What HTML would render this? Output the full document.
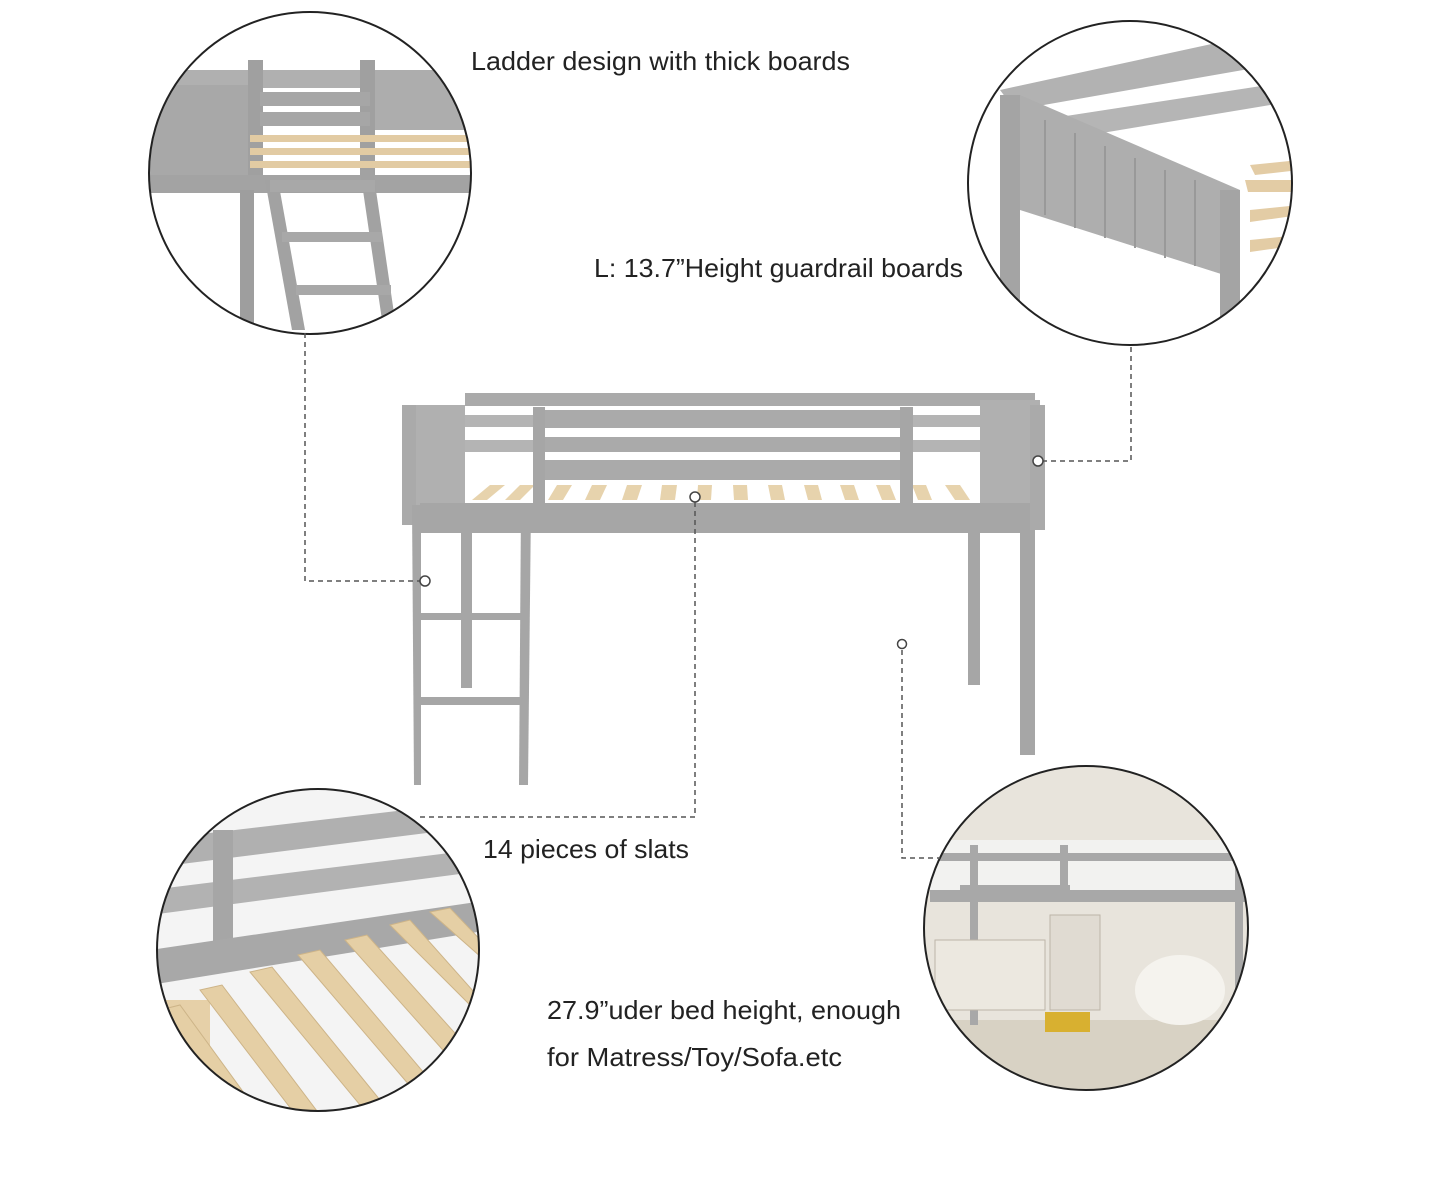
<!DOCTYPE html>
<html><head><meta charset="utf-8"><style>
html,body{margin:0;padding:0;background:#fff;}
svg{display:block;}
text{font-family:"Liberation Sans",sans-serif;fill:#222;font-size:26px;}
</style></head><body>
<svg width="1440" height="1203" viewBox="0 0 1440 1203" xmlns="http://www.w3.org/2000/svg">
<defs>
<clipPath id="c1"><circle cx="310" cy="173" r="161"/></clipPath>
<clipPath id="c2"><circle cx="1130" cy="183" r="162"/></clipPath>
<clipPath id="c3"><circle cx="318" cy="950" r="161"/></clipPath>
<clipPath id="c4"><circle cx="1086" cy="928" r="162"/></clipPath>
</defs>
<rect width="1440" height="1203" fill="#fff"/>

<g clip-path="url(#c1)">
<rect x="140" y="0" width="340" height="340" fill="#fff"/>
<rect x="150" y="70" width="330" height="18" fill="#b0b0b0"/>
<rect x="150" y="85" width="100" height="100" fill="#a8a8a8"/>
<rect x="248" y="60" width="15" height="120" fill="#a0a0a0"/>
<rect x="360" y="60" width="15" height="120" fill="#a0a0a0"/>
<rect x="260" y="92" width="110" height="14" fill="#a6a6a6"/>
<rect x="260" y="112" width="110" height="14" fill="#a6a6a6"/>
<rect x="375" y="70" width="110" height="60" fill="#adadad"/>
<g fill="#e2cba3">
<rect x="250" y="135" width="230" height="7"/><rect x="250" y="148" width="230" height="7"/><rect x="250" y="161" width="230" height="7"/>
</g>
<rect x="150" y="175" width="330" height="18" fill="#a3a3a3"/>
<rect x="240" y="190" width="14" height="150" fill="#9e9e9e"/>
<polygon points="265,180 278,180 305,330 292,330" fill="#a2a2a2"/>
<polygon points="360,170 373,170 395,320 382,320" fill="#a2a2a2"/>
<rect x="270" y="180" width="105" height="12" fill="#a8a8a8"/>
<rect x="282" y="232" width="100" height="10" fill="#a8a8a8"/>
<rect x="296" y="285" width="95" height="10" fill="#a8a8a8"/>
</g>
<circle cx="310" cy="173" r="161" fill="none" stroke="#222" stroke-width="2"/>

<g clip-path="url(#c2)">
<rect x="960" y="15" width="340" height="340" fill="#fff"/>
<polygon points="1000,90 1230,40 1300,40 1300,60 1015,110" fill="#b2b2b2"/>
<polygon points="1040,120 1300,80 1300,100 1060,140" fill="#b5b5b5"/>
<polygon points="1000,95 1020,95 1240,190 1240,280 1020,210 1000,210" fill="#aeaeae"/>
<g stroke="#999" stroke-width="2">
<line x1="1045" y1="120" x2="1045" y2="215"/><line x1="1075" y1="133" x2="1075" y2="228"/><line x1="1105" y1="146" x2="1105" y2="238"/><line x1="1135" y1="158" x2="1135" y2="248"/><line x1="1165" y1="170" x2="1165" y2="258"/><line x1="1195" y1="180" x2="1195" y2="266"/>
</g>
<g fill="#e3cca5">
<polygon points="1250,165 1300,160 1300,170 1255,175"/><polygon points="1245,180 1300,180 1300,192 1248,192"/><polygon points="1250,210 1300,205 1300,215 1250,222"/><polygon points="1250,240 1300,235 1300,245 1250,252"/>
</g>
<rect x="1000" y="95" width="20" height="260" fill="#a4a4a4"/>
<rect x="1220" y="190" width="20" height="160" fill="#a4a4a4"/>
</g>
<circle cx="1130" cy="183" r="162" fill="none" stroke="#222" stroke-width="2"/>

<g clip-path="url(#c3)">
<rect x="150" y="785" width="340" height="330" fill="#f4f4f4"/>
<polygon points="150,840 490,800 490,825 150,868" fill="#b0b0b0"/>
<polygon points="150,890 490,848 490,870 150,915" fill="#b2b2b2"/>
<rect x="213" y="830" width="20" height="130" fill="#a6a6a6"/>
<polygon points="150,950 490,900 490,930 150,985" fill="#a8a8a8"/>
<rect x="150" y="1000" width="60" height="120" fill="#e6d0a8"/>
<g fill="#e5cfa5" stroke="#cdb488" stroke-width="1">
<polygon points="160,1010 180,1005 260,1115 240,1120"/>
<polygon points="200,990 222,985 320,1115 298,1118"/>
<polygon points="250,972 272,967 380,1100 360,1105"/>
<polygon points="298,955 320,950 430,1080 410,1086"/>
<polygon points="345,940 367,935 470,1050 450,1058"/>
<polygon points="390,925 410,920 490,1010 490,1025"/>
<polygon points="430,912 450,908 490,950 490,965"/>
</g>
</g>
<circle cx="318" cy="950" r="161" fill="none" stroke="#222" stroke-width="2"/>

<g clip-path="url(#c4)">
<rect x="920" y="760" width="340" height="340" fill="#e8e4dc"/>
<rect x="920" y="1020" width="340" height="80" fill="#d8d2c4"/>
<rect x="930" y="840" width="320" height="55" fill="#f2f2f0"/>
<rect x="930" y="853" width="310" height="8" fill="#a8a8a8"/>
<rect x="930" y="890" width="320" height="12" fill="#a8a8a8"/>
<rect x="970" y="845" width="8" height="180" fill="#a8a8a8"/>
<rect x="960" y="885" width="110" height="8" fill="#a8a8a8"/>
<rect x="1060" y="845" width="8" height="48" fill="#a8a8a8"/>
<rect x="1235" y="840" width="8" height="180" fill="#a8a8a8"/>
<rect x="935" y="940" width="110" height="70" fill="#ece8e0" stroke="#bdb5a8"/>
<rect x="1050" y="915" width="50" height="95" fill="#e0dbd2" stroke="#bdb5a8"/>
<ellipse cx="1180" cy="990" rx="45" ry="35" fill="#f5f3ee"/>
<rect x="1045" y="1012" width="45" height="20" fill="#d8b030"/>
</g>
<circle cx="1086" cy="928" r="162" fill="none" stroke="#222" stroke-width="2"/>

<g fill="#aaaaaa">
<rect x="465" y="393" width="570" height="13"/>
<rect x="465" y="415" width="520" height="12" fill="#b4b4b4"/>
<rect x="465" y="440" width="520" height="12" fill="#b4b4b4"/>
<rect x="402" y="405" width="63" height="100" fill="#b0b0b0"/>
<rect x="402" y="405" width="14" height="120"/>
<rect x="980" y="400" width="60" height="110" fill="#b0b0b0"/>
<rect x="1030" y="405" width="15" height="125"/>
<rect x="545" y="410" width="355" height="18"/>
<rect x="545" y="437" width="355" height="15"/>
<rect x="545" y="460" width="355" height="20"/>
</g>
<g fill="#e7d3ad">
<polygon points="472,500 490,485 505,485 487,500"/><polygon points="505,500 520,485 535,485 520,500"/>
<polygon points="548,500 557,485 572,485 563,500"/><polygon points="585,500 592,485 607,485 600,500"/>
<polygon points="622,500 627,485 642,485 637,500"/><polygon points="660,500 662,485 677,485 675,500"/>
<polygon points="697,500 698,485 712,485 711,500"/><polygon points="734,500 733,485 747,485 748,500"/>
<polygon points="771,500 768,485 782,485 785,500"/><polygon points="808,500 804,485 818,485 822,500"/>
<polygon points="845,500 840,485 854,485 859,500"/><polygon points="882,500 876,485 890,485 896,500"/>
<polygon points="918,500 912,485 926,485 932,500"/><polygon points="955,500 945,485 960,485 970,500"/>
</g>
<g fill="#a6a6a6">
<rect x="533" y="407" width="12" height="125"/>
<rect x="900" y="407" width="13" height="125"/>
<rect x="420" y="503" width="610" height="30"/>
<rect x="1020" y="530" width="15" height="225"/>
<rect x="968" y="530" width="12" height="155"/>
<rect x="461" y="530" width="11" height="158"/>
<polygon points="412,505 421,505 421,785 414,785"/>
<polygon points="521,505 531,505 528,785 519,785"/>
<rect x="420" y="613" width="102" height="7"/>
<rect x="420" y="697" width="102" height="8"/>
<rect x="425" y="523" width="100" height="7"/>
</g>

<g stroke="#555" stroke-width="1.5" stroke-dasharray="5,4" fill="none">
<polyline points="305,333 305,581 420,581"/>
<polyline points="1131,347 1131,461 1043,461"/>
<polyline points="695,502 695,817 420,817"/>
<polyline points="902,650 902,858 940,858"/>
</g>
<g fill="#fff" stroke="#444" stroke-width="1.5">
<circle cx="425" cy="581" r="5"/>
<circle cx="1038" cy="461" r="5"/>
<circle cx="695" cy="497" r="5"/>
<circle cx="902" cy="644" r="4.5"/>
</g>

<text x="471" y="70" textLength="379" lengthAdjust="spacingAndGlyphs">Ladder design with thick boards</text>
<text x="594" y="277" textLength="369" lengthAdjust="spacingAndGlyphs">L: 13.7”Height guardrail boards</text>
<text x="483" y="858" textLength="206" lengthAdjust="spacingAndGlyphs">14 pieces of slats</text>
<text x="547" y="1019" textLength="354" lengthAdjust="spacingAndGlyphs">27.9”uder bed height, enough</text>
<text x="547" y="1066" textLength="295" lengthAdjust="spacingAndGlyphs">for Matress/Toy/Sofa.etc</text>
</svg>
</body></html>
